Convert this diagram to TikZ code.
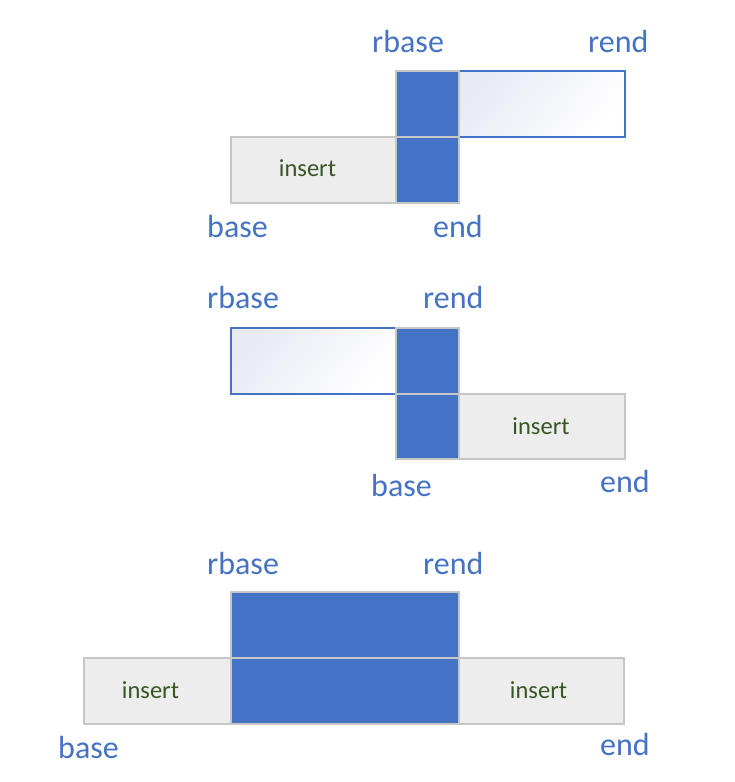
\documentclass[tikz,border=0pt]{standalone}
\usepackage{fontspec}
\setmainfont{Carlito}
\definecolor{lblue}{HTML}{4472C4}
\definecolor{insgrey}{HTML}{EDEDED}
\definecolor{edgegrey}{HTML}{C6C6C6}
\definecolor{gradc}{HTML}{E8EAF4}
\definecolor{instext}{HTML}{375623}
\begin{document}
\begin{tikzpicture}[x=1pt,y=-1pt,
  blk/.style={fill=lblue,draw=edgegrey,line width=1.2pt},
  ins/.style={fill=insgrey,draw=edgegrey,line width=1.2pt},
  rng/.style={draw=lblue,line width=1.3pt,top color=gradc,middle color=white!60!gradc,bottom color=white,shading angle=50},
  lbl/.style={anchor=base west,inner sep=0pt,text=lblue,font=\fontsize{32}{36}\selectfont},
  itx/.style={anchor=base,inner sep=0pt,text=instext,font=\fontsize{24.5}{28}\selectfont}]
\useasboundingbox (0,0) rectangle (734,782);
% ---------- diagram 1
\draw[ins] (231,137) rectangle (396,203);
\draw[rng] (459,71) rectangle (625,137);
\draw[blk] (396,71) rectangle (459,137);
\draw[blk] (396,137) rectangle (459,203);
\node[itx] (i1) at (307.5,176) {insert};
\node[lbl] (rb1) at (372,52) {rbase};
\node[lbl] (re1) at (588,52) {rend};
\node[lbl] (b1) at (207,237) {base};
\node[lbl] (e1) at (433,237) {end};
% ---------- diagram 2
\draw[rng] (231,328) rectangle (396,394);
\draw[ins] (459,394) rectangle (625,459);
\draw[blk] (396,328) rectangle (459,394);
\draw[blk] (396,394) rectangle (459,459);
\node[itx] (i2) at (541,434) {insert};
\node[lbl] (rb2) at (207,308) {rbase};
\node[lbl] (re2) at (423,308) {rend};
\node[lbl] (b2) at (371,496) {base};
\node[lbl] (e2) at (600,492) {end};
% ---------- diagram 3
\draw[ins] (84,658) rectangle (231,724);
\draw[ins] (459,658) rectangle (624,724);
\draw[blk] (231,592) rectangle (459,658);
\draw[blk] (231,658) rectangle (459,724);
\node[itx] (i3) at (150.5,698) {insert};
\node[itx] (i4) at (538.5,698) {insert};
\node[lbl] (rb3) at (207,574) {rbase};
\node[lbl] (re3) at (423,574) {rend};
\node[lbl] (b3) at (58,758) {base};
\node[lbl] (e3) at (600,755) {end};
\end{tikzpicture}
\end{document}
